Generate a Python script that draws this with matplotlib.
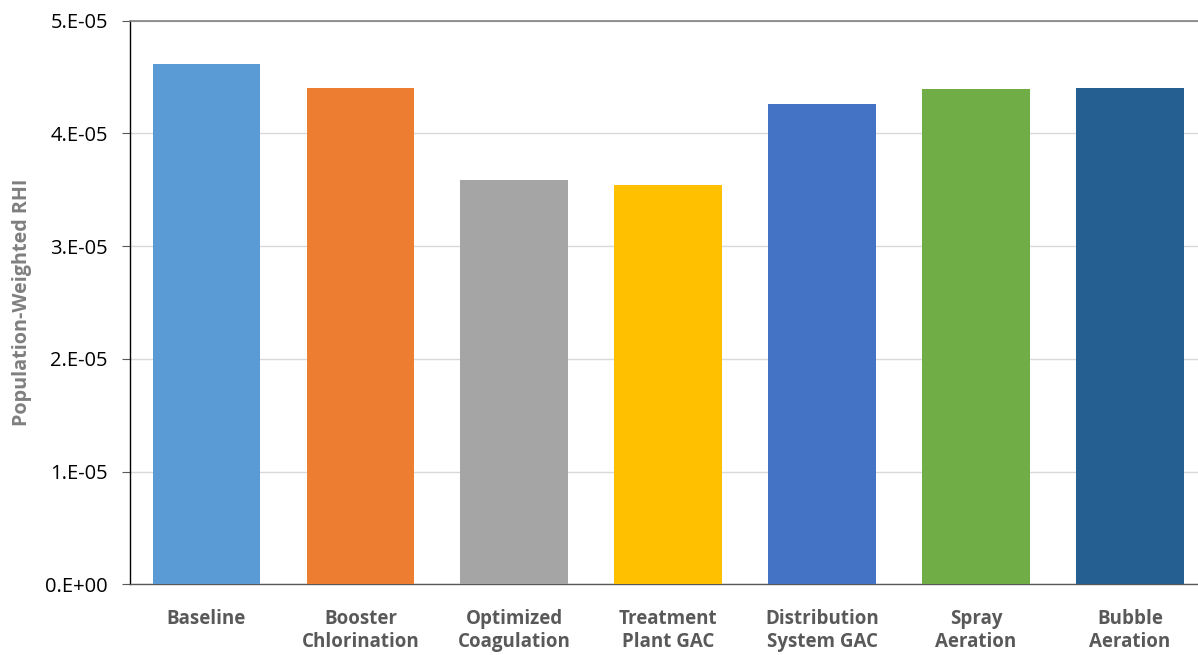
import matplotlib
matplotlib.use("Agg")
import matplotlib.pyplot as plt
from matplotlib.ticker import FixedLocator

plt.rcParams['font.family'] = ['Open Sans', 'DejaVu Sans']

categories = ["Baseline", "Booster\nChlorination", "Optimized\nCoagulation",
              "Treatment\nPlant GAC", "Distribution\nSystem GAC", "Spray\nAeration",
              "Bubble\nAeration"]
values = [4.62e-5, 4.40e-5, 3.585e-5, 3.543e-5, 4.264e-5, 4.39e-5, 4.40e-5]
colors = ["#5B9BD5", "#ED7D31", "#A5A5A5", "#FFC000", "#4472C4", "#70AD47", "#255E91"]
yticks = [0, 1e-5, 2e-5, 3e-5, 4e-5, 5e-5]
ytick_labels = ["0.E+00", "1.E-05", "2.E-05", "3.E-05", "4.E-05", "5.E-05"]

W, H = 1198, 655
fig = plt.figure(figsize=(W / 100, H / 100), dpi=100)
left, right, top, bottom = 129.5, 1207, 20.7, 584.3
ax = fig.add_axes([left / W, (H - bottom) / H, (right - left) / W, (bottom - top) / H])

x = list(range(len(categories)))
ax.bar(x, values, width=0.70, color=colors, zorder=3)

ax.set_xlim(-0.5, len(categories) - 0.5)
ax.set_ylim(0, 5e-5)
ax.yaxis.set_major_locator(FixedLocator(yticks))
ax.set_yticklabels(ytick_labels, fontsize=14.5, color="black")
ax.set_xticks(x)
ax.set_xticklabels(categories, fontsize=13.5, fontweight="bold", color="#595959",
                   linespacing=1.22)
ax.tick_params(axis="x", length=0, pad=17.5)
ax.tick_params(axis="y", length=6, width=0.8, color="#595959", pad=9.5)

ax.grid(axis="y", color="#D9D9D9", linewidth=1, zorder=0)
ax.set_axisbelow(True)

ax.spines["right"].set_visible(False)
ax.spines["top"].set_color("#808080")
ax.spines["top"].set_linewidth(1.2)
ax.spines["bottom"].set_color("#595959")
ax.spines["bottom"].set_linewidth(1.0)
ax.spines["left"].set_color("black")
ax.spines["left"].set_linewidth(1.0)

ax.set_ylabel("Population-Weighted RHI", fontsize=14.2, fontweight="bold", color="#7F7F7F")
ax.yaxis.set_label_coords(-0.0908, 0.5)

fig.savefig("out.png", dpi=100)
